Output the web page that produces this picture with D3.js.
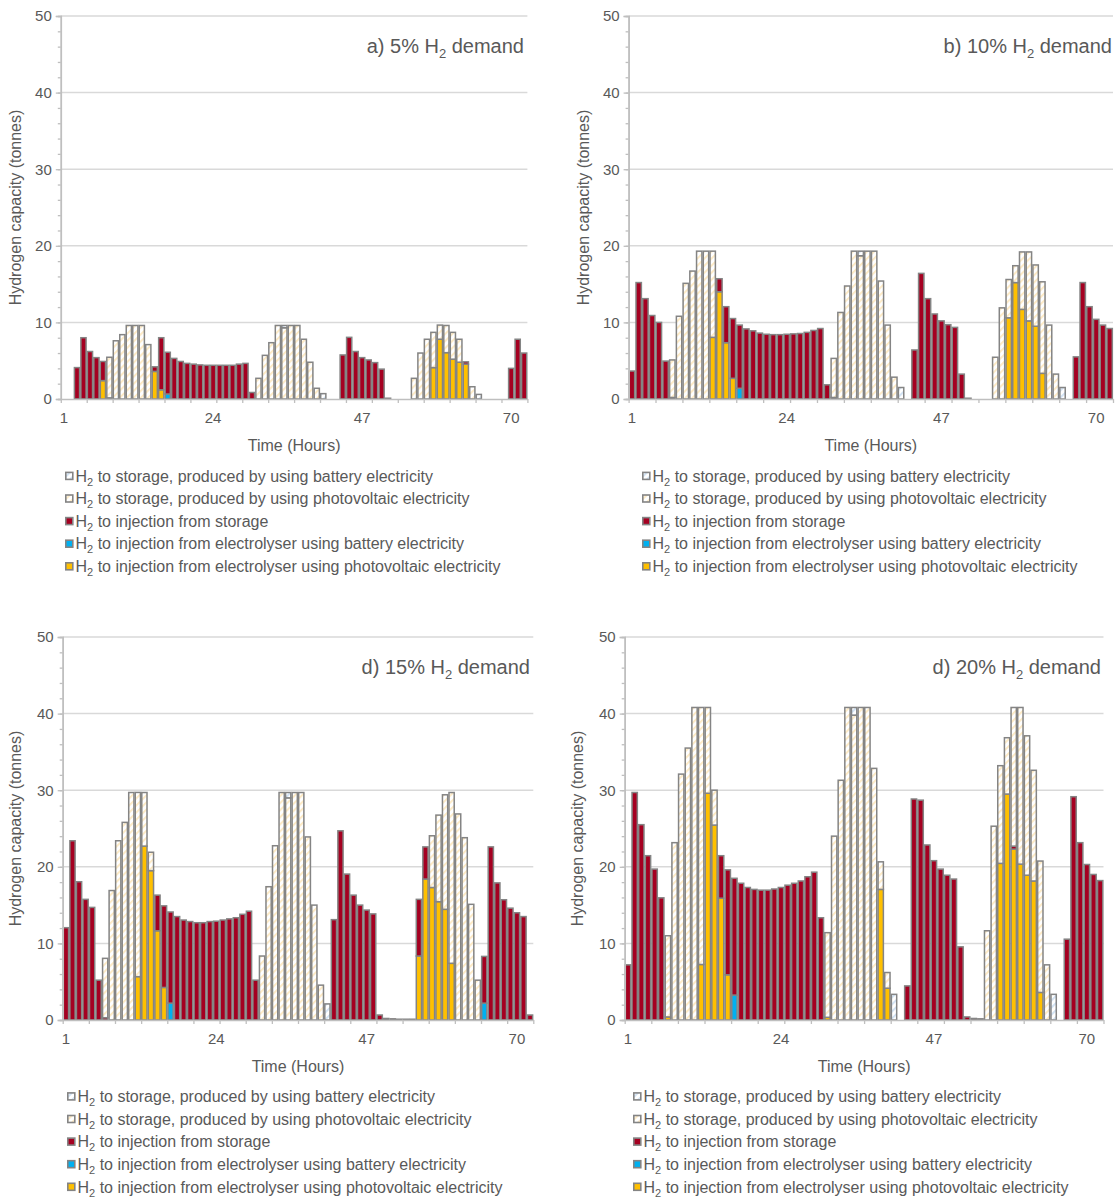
<!DOCTYPE html>
<meta charset="utf-8">
<style>
  body { margin: 0; background: #fff; }
  text { font-family: "Liberation Sans", Arial, sans-serif; fill: #595959; }
</style>
<body>
<script src="https://d3js.org/d3.v7.min.js"></script>
<script>

// Hours on the x axis and the labels that are shown
const hours = d3.range(1, 73);
const hourLabels = [1, 24, 47, 70];
const yMajor = [0, 10, 20, 30, 40, 50];

// Series keys, bottom of the stack first
const keys = ["pvInj", "batInj", "storInj", "pvStore", "batStore"];

// a) 5% H2 demand
const aPvInj = [0,0,0,0,0,0,2.4,0,0,0,0,0, 0,0,3.6,1.2,0,0,0,0,0,0,0,0, 0,0,0,0,0,0,0,0,0,0,0,0, 0,0,0,0,0,0,0,0,0,0,0,0, 0,0,0,0,0,0,0,0,0,4.1,7.8,6.05, 5.2,4.8,4.55,0,0,0,0,0,0,0,0,0];
const aBatInj = [0,0,0,0,0,0,0,0,0,0,0,0, 0,0,0,0,0.65,0,0,0,0,0,0,0, 0,0,0,0,0,0,0,0,0,0,0,0, 0,0,0,0,0,0,0,0,0,0,0,0, 0,0,0,0,0,0,0,0,0,0,0,0, 0,0,0,0,0,0,0,0,0,0,0,0];
const aStorInj = [0,0,4.1,8.0,6.2,5.4,2.5,0.15,0,0,0,0, 0,0,0.6,6.8,5.45,5.3,4.9,4.65,4.55,4.45,4.4,4.4, 4.4,4.4,4.4,4.55,4.65,0.85,0,0,0,0,0,0, 0,0,0,0,0,0,0,5.75,8.05,6.2,5.4,5.1, 4.75,3.9,0.1,0,0,0,0,0,0,0,0,0, 0,0,0.3,0,0,0,0,0,0,4.0,7.8,6.0];
const aPvStore = [0,0,0,0,0,0,0,5.3,7.6,8.4,9.6,9.6, 9.6,7.1,0,0,0,0,0,0,0,0,0,0, 0,0,0,0,0,0,2.7,5.7,7.35,9.6,9.3,9.6, 9.6,7.8,4.8,1.4,0,0,0,0,0,0,0,0, 0,0,0,0,0,0,2.7,6.0,7.8,4.6,1.85,3.55, 3.5,3.0,0,1.6,0,0,0,0,0,0,0,0];
const aBatStore = [0,0,0,0,0,0,0,0,0,0,0,0, 0,0,0,0,0,0,0,0,0,0,0,0, 0,0,0,0,0,0,0,0,0,0,0.3,0, 0,0,0,0,0.7,0,0,0,0,0,0,0, 0,0,0,0,0,0,0,0,0,0,0,0, 0,0,0,0,0.6,0,0,0,0,0,0,0];

// b) 10% H2 demand
const bPvInj = [0,0,0,0,0,0,0,0,0,0,0,0, 8.05,14.0,7.35,2.7,0,0,0,0,0,0,0,0, 0,0,0,0,0,0,0,0,0,0,0,0, 0,0,0,0,0,0,0,0,0,0,0,0, 0,0,0,0,0,0,0,0,10.6,15.2,11.7,10.2, 9.5,3.35,0,0,0,0,0,0,0,0,0,0];
const bBatInj = [0,0,0,0,0,0,0,0,0,0,0,0, 0,0,0,0,1.4,0,0,0,0,0,0,0, 0,0,0,0,0,0,0,0,0,0,0,0, 0,0,0,0,0,0,0,0,0,0,0,0, 0,0,0,0,0,0,0,0,0,0,0,0, 0,0,0,0,0,0,0,0,0,0,0,0];
const bStorInj = [3.65,15.2,13.1,10.9,10.0,4.95,0.2,0,0,0,0,0, 0,1.7,4.7,7.8,8.25,9.15,8.9,8.6,8.45,8.4,8.4,8.45, 8.5,8.55,8.7,8.95,9.2,1.85,0.2,0,0,0,0,0, 0,0,0,0,0,0,6.4,16.4,13.1,11.1,10.2,9.7, 9.35,3.25,0.1,0,0,0,0,0,0,0,0,0, 0,0,0,0,0,0,5.5,15.2,12.05,10.4,9.65,9.2];
const bPvStore = [0,0,0,0,0,0,4.9,10.8,15.1,16.7,19.3,19.3, 11.25,0,0,0,0,0,0,0,0,0,0,0, 0,0,0,0,0,0,5.1,11.3,14.75,19.3,18.7,19.3, 19.3,15.4,9.65,2.85,0,0,0,0,0,0,0,0, 0,0,0,0,0,0,5.45,11.9,5.0,2.2,7.5,9.0, 8.0,11.95,9.65,3.25,0,0,0,0,0,0,0,0];
const bBatStore = [0,0,0,0,0,0,0,0,0,0,0,0, 0,0,0,0,0,0,0,0,0,0,0,0, 0,0,0,0,0,0,0,0,0,0,0.6,0, 0,0,0,0,1.5,0,0,0,0,0,0,0, 0,0,0,0,0,0,0,0,0,0,0,0, 0,0,0,0,1.5,0,0,0,0,0,0,0];

// c) 15% H2 demand
const cPvInj = [0,0,0,0,0,0,0,0,0,0,0,5.66, 22.7,19.5,11.65,4.25,0,0,0,0,0,0,0,0, 0,0,0,0,0,0,0,0,0,0,0,0, 0,0,0,0,0,0,0,0,0,0,0,0, 0,0,0,0,0,0,8.35,18.4,17.3,15.45,14.45,7.4, 0,0,0,0,0,0,0,0,0,0,0,0];
const cBatInj = [0,0,0,0,0,0,0,0,0,0,0,0, 0,0,0,0,2.2,0,0,0,0,0,0,0, 0,0,0,0,0,0,0,0,0,0,0,0, 0,0,0,0,0,0,0,0,0,0,0,0, 0,0,0,0,0,0,0,0,0,0,0,0, 0,0,0,0,2.2,0,0,0,0,0,0,0];
const cStorInj = [12.05,23.4,18.05,15.75,14.7,5.2,0.3,0,0,0,0,0, 0,0,4.65,10.65,11.9,13.5,13.05,12.85,12.7,12.7,12.85,12.9, 13.05,13.2,13.35,13.8,14.2,5.2,0,0,0,0,0,0, 0,0,0,0,0,13.1,24.7,19.05,16.3,15.0,14.35,13.85, 0.65,0.2,0.15,0.1,0.1,0.1,7.4,4.2,0,0,0,0, 0,0,0,0,6.1,22.6,17.9,15.7,14.6,14.0,13.5,0.65];
const cPvStore = [0,0,0,0,0,0,7.75,16.9,23.4,25.8,29.7,24.05, 7.0,2.4,0,0,0,0,0,0,0,0,0,0, 0,0,0,0,0,0,8.35,17.4,22.75,29.7,29.0,29.7, 29.7,23.9,15.0,4.55,0,0,0,0,0,0,0,0, 0,0,0,0,0,0,0,0,6.75,11.3,14.95,22.3, 26.9,23.8,15.1,5.2,0,0,0,0,0,0,0,0];
const cBatStore = [0,0,0,0,0,0,0,0,0,0,0,0, 0,0,0,0,0,0,0,0,0,0,0,0, 0,0,0,0,0,0,0,0,0,0,0.7,0, 0,0,0,0,2.1,0,0,0,0,0,0,0, 0,0,0,0,0,0,0,0,0,0,0,0, 0,0,0,0,0,0,0,0,0,0,0,0];

// d) 20% H2 demand
const dPvInj = [0,0,0,0,0,0,0.4,0,0,0,0,7.25, 29.6,25.45,15.9,5.9,0,0,0,0,0,0,0,0, 0,0,0,0,0,0,0.35,0,0,0,0,0, 0,0,17.05,4.15,0,0,0,0,0,0,0,0, 0,0,0,0,0,0,0,0,20.45,29.5,22.3,20.35, 18.9,18.15,3.6,0,0,0,0,0,0,0,0,0];
const dBatInj = [0,0,0,0,0,0,0,0,0,0,0,0, 0,0,0,0,3.25,0,0,0,0,0,0,0, 0,0,0,0,0,0,0,0,0,0,0,0, 0,0,0,0,0,0,0,0,0,0,0,0, 0,0,0,0,0,0,0,0,0,0,0,0, 0,0,0,0,0,0,0,0,0,0,0,0];
const dStorInj = [7.2,29.7,25.5,21.45,19.7,15.95,0,0,0,0,0,0, 0,0,5.55,13.7,15.25,17.85,17.3,17.05,16.95,16.95,17.1,17.3, 17.6,17.85,18.15,18.7,19.3,13.35,0,0,0,0,0,0, 0,0,0,0,0,0,4.45,28.85,28.7,22.85,20.8,19.7, 18.9,18.4,9.55,0.4,0.2,0.15,0,0,0,0,0.4,0, 0,0,0,0,0,0,10.55,29.15,23.15,20.3,19.0,18.2];
const dPvStore = [0,0,0,0,0,0,10.6,23.15,32.1,35.5,40.8,33.55, 11.2,4.55,0,0,0,0,0,0,0,0,0,0, 0,0,0,0,0,0,11.05,24.0,31.3,40.8,39.8,40.8, 40.8,32.85,3.6,2.05,0,0,0,0,0,0,0,0, 0,0,0,0,0,0,11.65,25.3,12.75,7.35,18.1,20.45, 18.2,14.45,17.15,7.2,0,0,0,0,0,0,0,0];
const dBatStore = [0,0,0,0,0,0,0,0,0,0,0,0, 0,0,0,0,0,0,0,0,0,0,0,0, 0,0,0,0,0,0,0,0,0,0,1.0,0, 0,0,0,0,3.35,0,0,0,0,0,0,0, 0,0,0,0,0,0,0,0,0,0,0,0, 0,0,0,0,3.35,0,0,0,0,0,0,0];

// Legend entries, top to bottom
const legendItems = [
  {key: "batStore", text: " to storage, produced by using battery electricity"},
  {key: "pvStore",  text: " to storage, produced by using photovoltaic electricity"},
  {key: "storInj",  text: " to injection from storage"},
  {key: "batInj",   text: " to injection from electrolyser using battery electricity"},
  {key: "pvInj",    text: " to injection from electrolyser using photovoltaic electricity"}
];

const fills = {
  pvInj: "#ffc000",
  batInj: "#00b0f0",
  storInj: "#a50021",
  pvStore: "url(#hatchPv)",
  batStore: "url(#hatchBat)"
};

// Panel layout (pixel positions of each plot area)
const panels = [
  {id: "a", pre: "a) 5% H", series: [aPvInj, aBatInj, aStorInj, aPvStore, aBatStore],
   x0: 60.8, x1: 527.4, top: 16, bottom: 399, titleX: 524, yTitleX: 15, legendX: 65, legendY: 476},
  {id: "b", pre: "b) 10% H", series: [bPvInj, bBatInj, bStorInj, bPvStore, bBatStore],
   x0: 628.6, x1: 1113, top: 16, bottom: 399, titleX: 1112, yTitleX: 583, legendX: 642, legendY: 476},
  {id: "c", pre: "d) 15% H", series: [cPvInj, cBatInj, cStorInj, cPvStore, cBatStore],
   x0: 62.7, x1: 533.3, top: 637, bottom: 1020, titleX: 530, yTitleX: 15, legendX: 67, legendY: 1096.5},
  {id: "d", pre: "d) 20% H", series: [dPvInj, dBatInj, dStorInj, dPvStore, dBatStore],
   x0: 624.7, x1: 1103.5, top: 637, bottom: 1020, titleX: 1101, yTitleX: 577, legendX: 633, legendY: 1096.5}
];

const svg = d3.select("body").append("svg")
    .attr("width", 1117)
    .attr("height", 1200)
    .style("display", "block");

// hatch patterns for the storage series
const defs = svg.append("defs");
function hatch(id, color) {
  const p = defs.append("pattern")
      .attr("id", id)
      .attr("patternUnits", "userSpaceOnUse")
      .attr("width", 5)
      .attr("height", 5)
      .attr("patternTransform", "rotate(45)");
  p.append("rect").attr("width", 5).attr("height", 5).attr("fill", "#fff");
  p.append("rect").attr("width", 1.8).attr("height", 5).attr("fill", color);
}
hatch("hatchPv", "#fde9c2");
hatch("hatchBat", "#cfe1f3");

const stack = d3.stack().keys(keys);

panels.forEach(function(p) {
  const g = svg.append("g");

  const x = d3.scaleBand()
      .domain(hours)
      .range([p.x0, p.x1])
      .paddingInner(0.2)
      .paddingOuter(0.1);

  const xb = d3.scaleLinear().domain([0, 72]).range([p.x0, p.x1]);

  const y = d3.scaleLinear()
      .domain([0, 50])
      .range([p.bottom, p.top]);

  // gridlines
  g.append("g").selectAll("line")
    .data(yMajor.slice(1))
    .enter().append("line")
      .attr("x1", p.x0).attr("x2", p.x1)
      .attr("y1", d => y(d)).attr("y2", d => y(d))
      .attr("stroke", "#d9d9d9")
      .attr("stroke-width", 1.5);

  // stacked bars
  const rows = hours.map(function(h, i) {
    const r = {hour: h};
    keys.forEach(function(k, j) { r[k] = p.series[j][i]; });
    return r;
  });
  const layers = stack(rows);

  layers.forEach(function(layer) {
    g.append("g").selectAll("rect")
      .data(layer.filter(d => d[1] - d[0] > 0))
      .enter().append("rect")
        .attr("x", d => x(d.data.hour))
        .attr("width", x.bandwidth())
        .attr("y", d => y(d[1]))
        .attr("height", d => y(d[0]) - y(d[1]))
        .attr("fill", fills[layer.key])
        .attr("stroke", "#848484")
        .attr("stroke-width", 1.5);
  });

  // y axis: minor then major ticks
  const yMinor = g.append("g")
      .attr("transform", "translate(" + p.x0 + ",0)")
      .call(d3.axisLeft(y).tickValues(d3.range(0, 51, 2)).tickSize(3).tickFormat(""));
  const yAxis = g.append("g")
      .attr("transform", "translate(" + p.x0 + ",0)")
      .call(d3.axisLeft(y).tickValues(yMajor).tickSize(5).tickPadding(4));
  [yMinor, yAxis].forEach(function(ax) {
    ax.selectAll("line").attr("stroke", "#bfbfbf").attr("stroke-width", 1.3);
    ax.select(".domain").attr("stroke", "#bfbfbf").attr("stroke-width", 1.5);
  });
  yAxis.selectAll("text")
      .style("font-size", "15px")
      .style("font-family", "Liberation Sans, Arial, sans-serif")
      .attr("fill", "#595959");

  // x axis: tick marks every 4 hours, labels every 23 hours
  const xTicks = g.append("g")
      .attr("transform", "translate(0," + p.bottom + ")")
      .call(d3.axisBottom(xb).tickValues(d3.range(0, 73, 4)).tickSize(4).tickFormat("").tickSizeOuter(0));
  xTicks.selectAll("line").attr("stroke", "#bfbfbf").attr("stroke-width", 1.3);
  xTicks.select(".domain").attr("stroke", "#bfbfbf").attr("stroke-width", 1.5);

  const xLabels = g.append("g")
      .attr("transform", "translate(0," + p.bottom + ")")
      .call(d3.axisBottom(x).tickValues(hourLabels).tickSize(0).tickPadding(13));
  xLabels.select(".domain").remove();
  xLabels.selectAll("text")
      .style("font-size", "15px")
      .style("font-family", "Liberation Sans, Arial, sans-serif")
      .attr("fill", "#595959");

  // axis titles
  g.append("text")
      .attr("x", (p.x0 + p.x1) / 2)
      .attr("y", p.bottom + 52)
      .attr("text-anchor", "middle")
      .style("font-size", "16px")
      .text("Time (Hours)");

  g.append("text")
      .attr("transform", "translate(" + p.yTitleX + "," + ((p.top + p.bottom) / 2) + ") rotate(-90)")
      .attr("text-anchor", "middle")
      .attr("dy", "0.35em")
      .style("font-size", "16px")
      .text("Hydrogen capacity (tonnes)");

  // panel title with subscript
  const t = g.append("text")
      .attr("x", p.titleX)
      .attr("y", p.top + 37)
      .attr("text-anchor", "end")
      .style("font-size", "20px");
  t.append("tspan").text(p.pre);
  t.append("tspan").attr("dy", 5).style("font-size", "13px").text("2");
  t.append("tspan").attr("dy", -5).text(" demand");

  // legend
  const legend = g.append("g")
      .attr("transform", "translate(" + p.legendX + "," + p.legendY + ")");
  legendItems.forEach(function(item, i) {
    const row = legend.append("g").attr("transform", "translate(0," + (i * 22.6) + ")");
    row.append("rect")
        .attr("x", 0.8).attr("y", -3.6)
        .attr("width", 7).attr("height", 7)
        .attr("fill", fills[item.key])
        .attr("stroke", "#848484")
        .attr("stroke-width", 1.6);
    const lt = row.append("text")
        .attr("x", 10.5)
        .attr("y", 5.6)
        .style("font-size", "16px");
    lt.append("tspan").text("H");
    lt.append("tspan").attr("dy", 4).style("font-size", "11px").text("2");
    lt.append("tspan").attr("dy", -4).text(item.text);
  });
});

</script>
</body>
